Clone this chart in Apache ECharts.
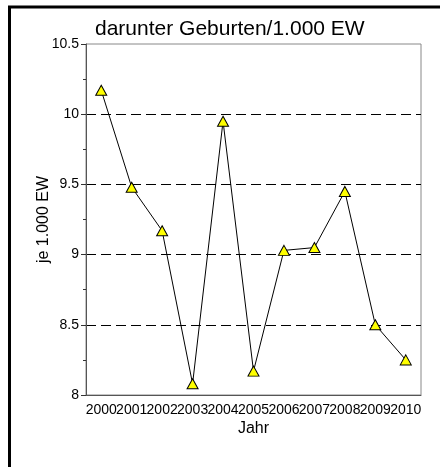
<!DOCTYPE html>
<html>
<head>
<meta charset="utf-8">
<script src="https://cdn.jsdelivr.net/npm/echarts@6/dist/echarts.min.js"></script>
<style>
  html, body { margin: 0; padding: 0; background: #fff; }
  #main { width: 440px; height: 467px; }
</style>
</head>
<body>
<div id="main"></div>
<script>
// Jahre und Werte (Geburten je 1.000 EW)
const years = ['2000', '2001', '2002', '2003', '2004', '2005', '2006', '2007', '2008', '2009', '2010'];
const births = [10.17, 9.48, 9.17, 8.08, 9.95, 8.17, 9.03, 9.05, 9.45, 8.5, 8.25];
const yTicks = [8, 8.5, 9, 9.5, 10, 10.5];

const chartDom = document.getElementById('main');
const myChart = echarts.init(chartDom);

const font = 'Liberation Sans, Arial, sans-serif';

const option = {
    animation: false,
    title: {
        text: 'darunter Geburten/1.000 EW',
        left: 90,
        top: 14,
        textStyle: { fontFamily: font, fontSize: 21, fontWeight: 'normal', color: '#000' }
    },
    graphic: [{
        type: 'rect',
        shape: { x: 9.5, y: 7, width: 600, height: 600 },
        style: { fill: 'none', stroke: '#000', lineWidth: 3 },
        silent: true
    }],
    grid: {
        left: 86, right: 19, top: 44, bottom: 72,
        show: true, borderColor: '#888', borderWidth: 1
    },
    xAxis: [{
        type: 'category',
        data: years,
        boundaryGap: true,
        name: 'Jahr',
        nameLocation: 'middle',
        nameGap: 26,
        nameMoveOverlap: false,
        nameTextStyle: { fontFamily: font, fontSize: 16, color: '#000' },
        axisLine: { lineStyle: { color: '#555' } },
        axisTick: { alignWithLabel: true, length: 4, lineStyle: { color: '#222' } },
        axisLabel: { interval: 0, margin: 8, fontFamily: font, fontSize: 14, color: '#000' },
        splitLine: { show: false }
    }, {
        // zweite Achse nur fuer die nach innen zeigenden Tickstriche
        type: 'category',
        data: years,
        position: 'bottom',
        boundaryGap: true,
        axisLine: { show: false },
        axisTick: { inside: true, alignWithLabel: true, length: 4, lineStyle: { color: '#222' } },
        axisLabel: { show: false },
        splitLine: { show: false }
    }],
    yAxis: {
        type: 'value',
        min: yTicks[0],
        max: yTicks[yTicks.length - 1],
        interval: 0.5,
        name: 'je 1.000 EW',
        nameLocation: 'middle',
        nameGap: 34,
        nameMoveOverlap: false,
        nameTextStyle: { fontFamily: font, fontSize: 16, color: '#000' },
        axisLine: { show: true, lineStyle: { color: '#555' } },
        axisTick: { show: true, length: 5, lineStyle: { color: '#333' } },
        minorTick: { show: true, splitNumber: 2, length: 3, lineStyle: { color: '#333' } },
        axisLabel: { margin: 7, fontFamily: font, fontSize: 14, color: '#000' },
        splitLine: {
            show: true,
            lineStyle: { color: '#000', type: [10, 5], width: 1 },
            showMinLine: false,
            showMaxLine: false
        }
    },
    series: [{
        type: 'line',
        data: births,
        symbol: 'triangle',
        symbolSize: [11, 10],
        showAllSymbol: true,
        lineStyle: { color: '#000', width: 1 },
        itemStyle: { color: '#ffff00', borderColor: '#000', borderWidth: 1 }
    }]
};

option && myChart.setOption(option);
</script>
</body>
</html>
